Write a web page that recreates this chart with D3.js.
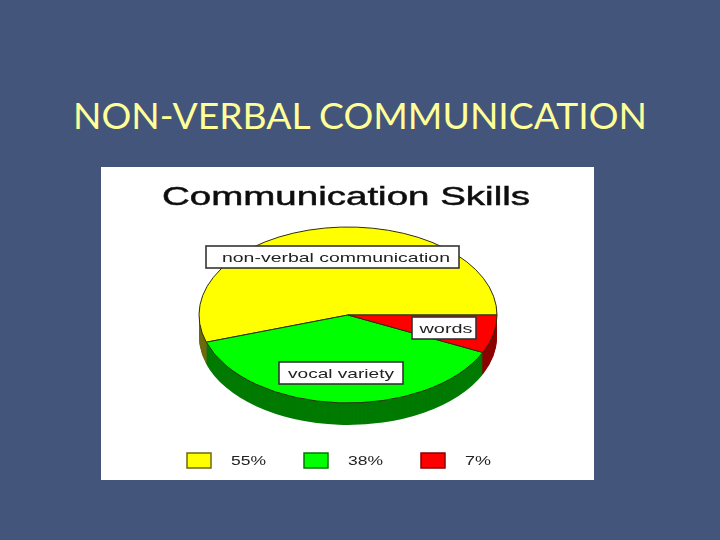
<!DOCTYPE html>
<html lang="en">
<head>
<meta charset="UTF-8">
<title>Non-verbal communication</title>
<style>
  body { margin: 0; background: #43557a; }
  svg { display: block; }
</style>
</head>
<body>
<svg width="720" height="540"></svg>
<script src="https://d3js.org/d3.v7.min.js"></script>
<script>
const slideTitle = "NON-VERBAL COMMUNICATION";
const chartTitle = "Communication Skills";
const categories = ["non-verbal communication", "vocal variety", "words"];
const shares = [55, 38, 7];
const legendLabels = ["55%", "38%", "7%"];

const topColors = ["#ffff00", "#00ff00", "#ff0000"];
const wallColors = ["#6e6a10", "#007a00", "#8c0000"];

const svg = d3.select("svg");

// slide title
svg.append("text")
  .attr("x", 360).attr("y", 129)
  .attr("text-anchor", "middle")
  .attr("font-family", "Lato, sans-serif")
  .attr("font-size", 37)
  .attr("textLength", 574)
  .attr("lengthAdjust", "spacingAndGlyphs")
  .attr("fill", "#ffff99")
  .text(slideTitle);

// the picture is a slightly soft jpeg on the slide
const defs = svg.append("defs");
defs.append("filter").attr("id", "soft")
  .append("feGaussianBlur").attr("stdDeviation", 0.55);

svg.append("rect")
  .attr("x", 101).attr("y", 167)
  .attr("width", 493).attr("height", 313)
  .attr("fill", "#ffffff");

const chart = svg.append("g").attr("filter", "url(#soft)");

chart.append("text")
  .attr("x", 346).attr("y", 205)
  .attr("text-anchor", "middle")
  .attr("font-family", "Liberation Sans, sans-serif")
  .attr("font-size", 26)
  .attr("textLength", 368)
  .attr("lengthAdjust", "spacingAndGlyphs")
  .attr("fill", "#111111")
  .attr("stroke", "#111111")
  .attr("stroke-width", 0.5)
  .text(chartTitle);

// pie: true angles, squashed into an ellipse
const cx = 348, cy = 315, rx = 149, ry = 88, depth = 22;

const pie = d3.pie()
  .sort(null)
  .startAngle(Math.PI / 2)
  .endAngle(Math.PI / 2 - 2 * Math.PI);
const arcs = pie(shares);
const arc = d3.arc().innerRadius(0).outerRadius(rx);

// side wall: same slices stacked downward
d3.range(depth, 0, -1).forEach(d => {
  chart.append("g")
    .attr("transform", `translate(${cx},${cy + d}) scale(1,${ry / rx})`)
    .selectAll("path")
    .data(arcs)
    .join("path")
    .attr("d", arc)
    .attr("fill", (a, i) => wallColors[i]);
});

chart.append("g")
  .attr("transform", `translate(${cx},${cy}) scale(1,${ry / rx})`)
  .selectAll("path")
  .data(arcs)
  .join("path")
  .attr("d", arc)
  .attr("fill", (a, i) => topColors[i])
  .attr("stroke", "#2e2e10")
  .attr("stroke-width", 1)
  .attr("vector-effect", "non-scaling-stroke");

// boxed labels
const labelBoxes = [
  { x: 206, y: 246, w: 253, h: 22, tx: 336, len: 228 },
  { x: 279, y: 362, w: 124, h: 22, tx: 341, len: 106 },
  { x: 412, y: 317, w: 64, h: 22, tx: 446, len: 53 }
];

const labels = chart.selectAll("g.label")
  .data(categories)
  .join("g")
  .attr("class", "label");

labels.append("rect")
  .attr("x", (d, i) => labelBoxes[i].x)
  .attr("y", (d, i) => labelBoxes[i].y)
  .attr("width", (d, i) => labelBoxes[i].w)
  .attr("height", (d, i) => labelBoxes[i].h)
  .attr("fill", "#ffffff")
  .attr("stroke", "#333333")
  .attr("stroke-width", 1.6);

labels.append("text")
  .attr("x", (d, i) => labelBoxes[i].tx)
  .attr("y", (d, i) => labelBoxes[i].y + 16)
  .attr("text-anchor", "middle")
  .attr("font-family", "Liberation Sans, sans-serif")
  .attr("font-size", 13.5)
  .attr("textLength", (d, i) => labelBoxes[i].len)
  .attr("lengthAdjust", "spacingAndGlyphs")
  .attr("fill", "#222222")
  .text(d => d);

// legend
const legendX = d3.scalePoint()
  .domain(legendLabels)
  .range([187, 421]);

const legend = chart.selectAll("g.legend")
  .data(legendLabels)
  .join("g")
  .attr("class", "legend")
  .attr("transform", d => `translate(${legendX(d)},453)`);

legend.append("rect")
  .attr("width", 24).attr("height", 15)
  .attr("fill", (d, i) => topColors[i])
  .attr("stroke", (d, i) => wallColors[i])
  .attr("stroke-width", 1.5);

legend.append("text")
  .attr("x", 44).attr("y", 12)
  .attr("font-family", "Liberation Sans, sans-serif")
  .attr("font-size", 12.5)
  .attr("textLength", (d, i) => i === 2 ? 26 : 35)
  .attr("lengthAdjust", "spacingAndGlyphs")
  .attr("fill", "#222222")
  .text(d => d);
</script>
</body>
</html>
